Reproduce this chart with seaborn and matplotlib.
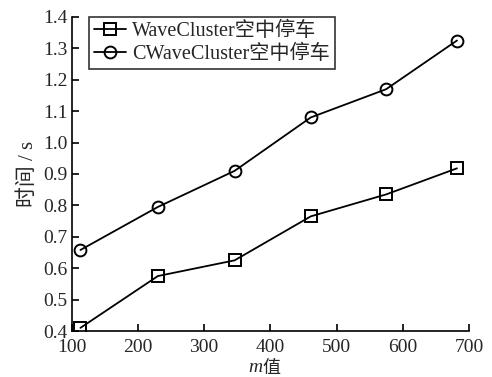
import matplotlib
matplotlib.use("Agg")
import matplotlib.pyplot as plt
import seaborn as sns
import pandas as pd

m_values = [113, 230, 346, 461, 575, 682]
wave_times = [0.41, 0.575, 0.625, 0.765, 0.835, 0.918]
cwave_times = [0.658, 0.795, 0.91, 1.08, 1.17, 1.325]
series_names = ["WaveCluster空中停车", "CWaveCluster空中停车"]
x_ticks = [100, 200, 300, 400, 500, 600, 700]
y_ticks = [0.4, 0.5, 0.6, 0.7, 0.8, 0.9, 1.0, 1.1, 1.2, 1.3, 1.4]

df = pd.DataFrame({
    "m": m_values * 2,
    "t": wave_times + cwave_times,
    "series": [series_names[0]] * len(m_values) + [series_names[1]] * len(m_values),
})

sns.set_style("ticks")
plt.rcParams['font.family'] = ['Liberation Serif', 'Noto Sans CJK SC']

fig = plt.figure(figsize=(4.92, 3.77), dpi=100)
ax = fig.add_axes([0.146, 0.122, 0.807, 0.833])

sns.lineplot(data=df, x="m", y="t", hue="series", style="series",
             markers={series_names[0]: "s", series_names[1]: "o"},
             dashes=False, palette={series_names[0]: "black", series_names[1]: "black"},
             markersize=8.5, markerfacecolor="none", markeredgecolor="black",
             markeredgewidth=1.4, linewidth=1.3, ax=ax)

ax.set_xlim(100, 700)
ax.set_ylim(0.4, 1.4)
ax.set_xticks(x_ticks)
ax.set_yticks(y_ticks)
ax.set_xticklabels([str(v) for v in x_ticks], fontsize=14)
ax.set_yticklabels([f"{v:.1f}" for v in y_ticks], fontsize=14)
ax.tick_params(direction="in", length=5, width=1.2, color="black")
ax.tick_params(axis="x", pad=5.5)
ax.tick_params(axis="y", pad=3)
for s in ["left", "bottom"]:
    ax.spines[s].set_linewidth(1.2)
    ax.spines[s].set_color("black")
ax.spines["top"].set_visible(False)
ax.spines["right"].set_visible(False)

ax.set_xlabel("")
ax.annotate("m", xy=(0.479, 0), xycoords="axes fraction", xytext=(0, -26.5),
            textcoords="offset points", ha="right", va="center",
            fontsize=14, style="italic", family="Liberation Serif")
ax.annotate("值", xy=(0.479, 0), xycoords="axes fraction", xytext=(0, -26.5),
            textcoords="offset points", ha="left", va="center",
            fontsize=13, family=["Noto Sans CJK SC"])
ax.set_ylabel("时间 / s", fontsize=15, labelpad=4)

leg = ax.legend(loc="upper left", bbox_to_anchor=(0.042, 1.0), fontsize=14.5,
                frameon=True, fancybox=False, edgecolor="black",
                handlelength=1.6, handletextpad=0.3, borderpad=0.25,
                labelspacing=0.15, borderaxespad=0.0)
leg.get_frame().set_linewidth(1.2)
for h in leg.get_lines():
    h.set_markerfacecolor("none")
    h.set_markeredgecolor("black")

fig.savefig("out.png", dpi=100)
